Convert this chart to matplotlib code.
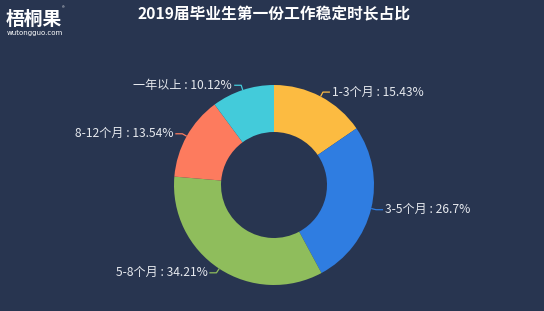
import numpy as np
import matplotlib.pyplot as plt

plt.rcParams['font.family'] = ['Noto Sans CJK SC', 'DejaVu Sans']

labels = ['1-3个月', '3-5个月', '5-8个月', '8-12个月', '一年以上']
values = [15.43, 26.7, 34.21, 13.54, 10.12]
colors = ['#fcbb41', '#2f7de1', '#8fbd5c', '#fd7b5e', '#43cbda']
title = '2019届毕业生第一份工作稳定时长占比'

bg = '#283550'
fig = plt.figure(figsize=(5.44, 3.11), dpi=100, facecolor=bg)

# pie axes: center (274,185) px, radius 100 px
W, H = 544, 311
cx, cy, r = 274, 185, 100
ext = 1.6
ax = fig.add_axes([(cx - r * ext) / W, (H - cy - r * ext) / H, 2 * r * ext / W, 2 * r * ext / H])
ax.set_facecolor(bg)

wedges, _ = ax.pie(values, colors=colors, startangle=90, counterclock=False,
                   radius=1.0, wedgeprops=dict(width=0.47, linewidth=0),
                   center=(0, 0), frame=True)
ax.set_xlim(-ext, ext)
ax.set_ylim(-ext, ext)
ax.axis('off')

for w, lab, v, c in zip(wedges, labels, values, colors):
    ang = np.deg2rad((w.theta1 + w.theta2) / 2)
    x0, y0 = np.cos(ang), np.sin(ang)
    x1, y1 = 1.05 * x0, 1.05 * y0
    side = 1 if x0 > 0 else -1
    x2 = x1 + side * 0.07
    ax.plot([x0, x1, x2], [y0, y1, y1], color=c, lw=0.9, solid_capstyle='butt')
    ax.text(x2 + side * 0.02, y1, f'{lab} : {v:g}%', color='#e6e9ee', fontsize=8.7,
            ha='left' if side > 0 else 'right', va='center')

fig.text(0.504, 0.955, title, color='white', fontsize=11.3, fontweight='bold',
         ha='center', va='center')

# logo
fig.text(0.011, 0.937, '梧桐果', color='white', fontsize=13.5, fontweight='bold',
         ha='left', va='center')
fig.text(0.013, 0.893, 'wutongguo.com', color='white', fontsize=5, ha='left', va='center',
         family='DejaVu Sans')
fig.text(0.114, 0.972, '®', color='white', fontsize=4, ha='left', va='center')

fig.savefig('out.png', dpi=100, facecolor=bg)
